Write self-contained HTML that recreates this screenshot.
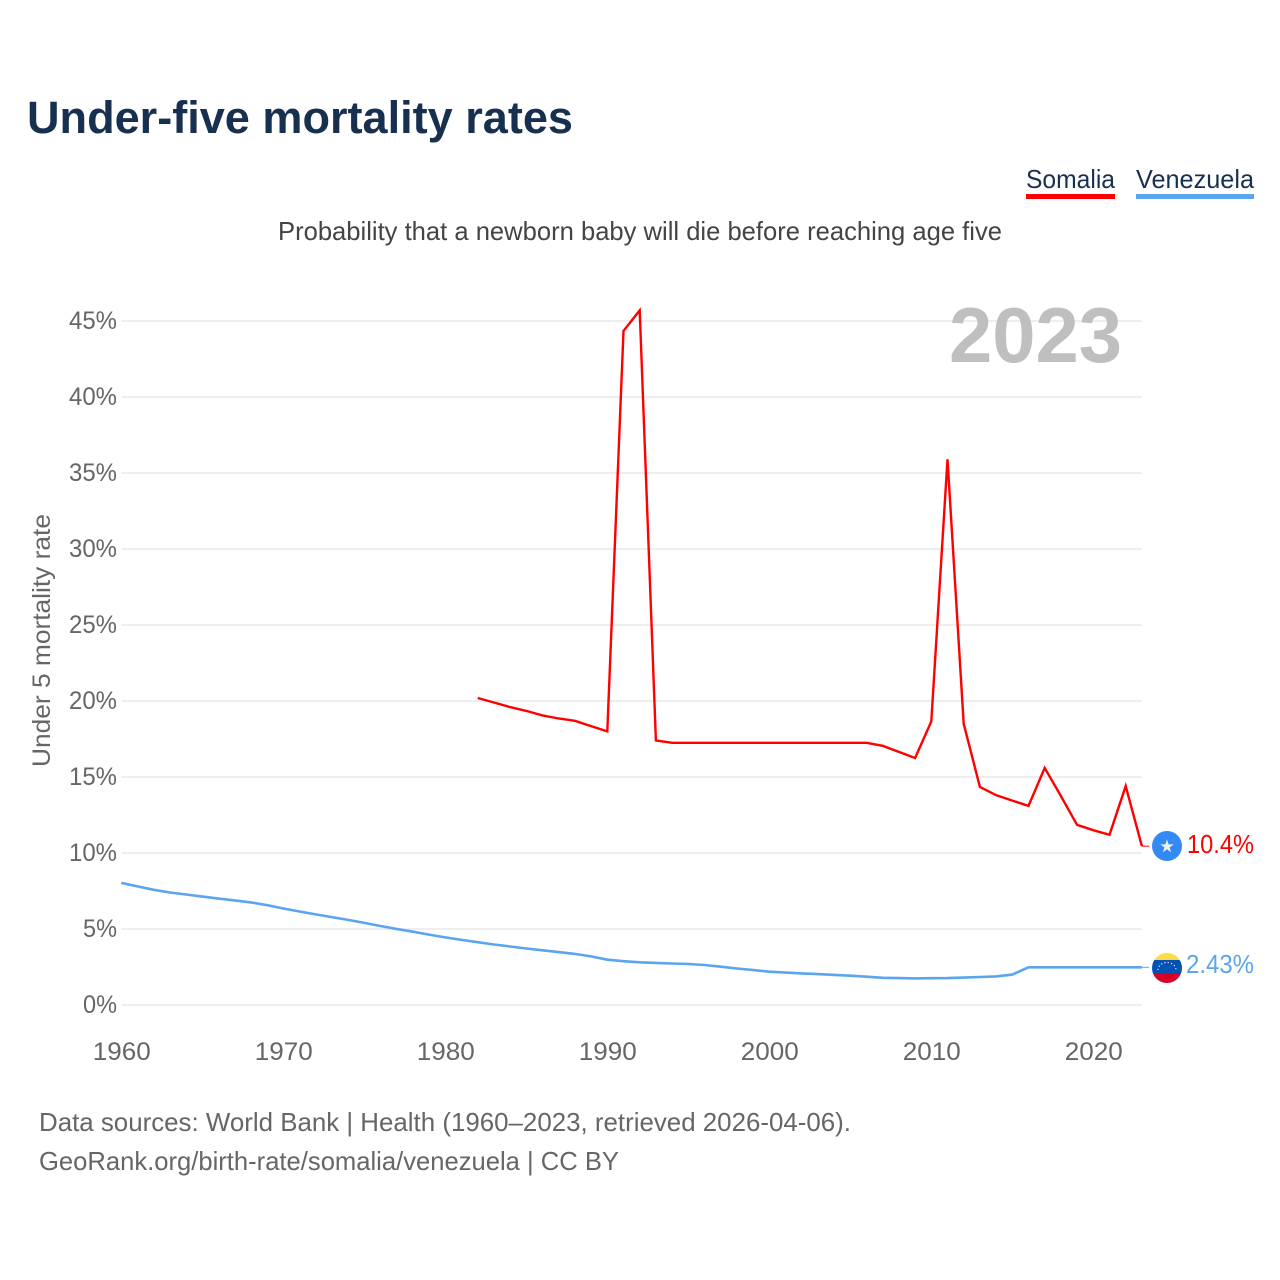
<!DOCTYPE html>
<html lang="en">
<head>
<meta charset="utf-8">
<title>Under-five mortality rates</title>
<style>
html,body{margin:0;padding:0;background:#fff;width:1280px;height:1280px;overflow:hidden}
svg{display:block}
text{font-family:"Liberation Sans",sans-serif}
</style>
</head>
<body>
<svg id="chart" xmlns="http://www.w3.org/2000/svg" width="1280" height="1280" viewBox="0 0 1280 1280">
  <defs>
    <clipPath id="flag-clip-so"><circle cx="1167" cy="846" r="15"/></clipPath>
    <clipPath id="flag-clip-ve"><circle cx="1167" cy="968" r="15"/></clipPath>
  </defs>
  <text x="27" y="133" font-size="45" font-weight="700" fill="#18304f" textLength="546" lengthAdjust="spacingAndGlyphs">Under-five mortality rates</text>

  <text x="1026" y="188" font-size="26" fill="#18304f" textLength="89" lengthAdjust="spacingAndGlyphs">Somalia</text>
  <rect x="1026" y="194" width="89" height="5" fill="#ff0000"/>
  <text x="1136" y="188" font-size="26" fill="#18304f" textLength="118" lengthAdjust="spacingAndGlyphs">Venezuela</text>
  <rect x="1136" y="194" width="118" height="5" fill="#5ba4ee"/>

  <text x="278" y="240" font-size="26" fill="#444444" textLength="724" lengthAdjust="spacingAndGlyphs">Probability that a newborn baby will die before reaching age five</text>

  <text transform="translate(50,767) rotate(-90)" font-size="25" fill="#666666" textLength="253" lengthAdjust="spacingAndGlyphs">Under 5 mortality rate</text>

  <g id="grid"></g>
  <g id="y-ticks"></g>
  <g id="x-ticks"></g>

  <text x="949" y="362" font-size="78" font-weight="700" fill="#bfbfbf" textLength="173" lengthAdjust="spacingAndGlyphs">2023</text>

  <g id="series"></g>

  <g clip-path="url(#flag-clip-so)">
    <rect x="1150" y="829" width="34" height="34" fill="#338af3"/>
    <polygon points="1167,839.5 1168.6,844.4 1173.7,844.4 1169.6,847.4 1171.1,852.3 1167,849.3 1162.9,852.3 1164.4,847.4 1160.3,844.4 1165.4,844.4" fill="#f0f0f0"/>
  </g>
  <text x="1187" y="853" font-size="26" fill="#ff0000" textLength="67" lengthAdjust="spacingAndGlyphs">10.4%</text>

  <g clip-path="url(#flag-clip-ve)">
    <rect x="1150" y="951" width="34" height="11" fill="#ffda44"/>
    <rect x="1150" y="960" width="34" height="14" fill="#0052b4"/>
    <rect x="1150" y="974" width="34" height="11" fill="#d80027"/>
    <path d="M1158 970A9 7.5 0 0 1 1176 970" fill="none" stroke="#f0f0f0" stroke-width="1.2" stroke-dasharray="1.2 2.2"/>
  </g>
  <text x="1186" y="973" font-size="26" fill="#5ba4ee" textLength="68" lengthAdjust="spacingAndGlyphs">2.43%</text>

  <text x="39" y="1131" font-size="26" fill="#666666" textLength="812" lengthAdjust="spacingAndGlyphs">Data sources: World Bank | Health (1960–2023, retrieved 2026-04-06).</text>
  <text x="39" y="1170" font-size="26" fill="#666666" textLength="580" lengthAdjust="spacingAndGlyphs">GeoRank.org/birth-rate/somalia/venezuela | CC BY</text>
</svg>
<script>
const yTickValues = [0, 5, 10, 15, 20, 25, 30, 35, 40, 45];
const yTickLabels = ['0%', '5%', '10%', '15%', '20%', '25%', '30%', '35%', '40%', '45%'];
const xTickYears = [1960, 1970, 1980, 1990, 2000, 2010, 2020];
const xTickLabels = ['1960', '1970', '1980', '1990', '2000', '2010', '2020'];
const somaliaStartYear = 1982;
const somaliaValues = [20.2, 19.9, 19.6, 19.35, 19.05, 18.85, 18.7, 18.35, 18.0, 44.35, 45.7, 17.4, 17.25, 17.25, 17.25, 17.25, 17.25, 17.25, 17.25, 17.25, 17.25, 17.25, 17.25, 17.25, 17.25, 17.05, 16.65, 16.25, 18.65, 35.9, 18.5, 14.35, 13.8, 13.45, 13.1, 15.6, 13.75, 11.85, 11.5, 11.2, 14.4, 10.45];
const venezuelaStartYear = 1960;
const venezuelaValues = [
  8.03, 7.8, 7.58, 7.4, 7.27, 7.13, 7.0, 6.88, 6.75, 6.57,
  6.35, 6.15, 5.96, 5.78, 5.6, 5.4, 5.2, 5.0, 4.82, 4.63,
  4.45, 4.28, 4.13, 3.98, 3.85, 3.72, 3.6, 3.48, 3.36, 3.2,
  2.98, 2.88, 2.81, 2.77, 2.73, 2.7, 2.63, 2.52, 2.4, 2.3,
  2.19, 2.13, 2.08, 2.03, 1.98, 1.93, 1.86, 1.79, 1.77, 1.75,
  1.76, 1.77, 1.8, 1.84, 1.88, 2.0, 2.48, 2.48, 2.48, 2.48,
  2.48, 2.48, 2.48, 2.48
];
const seriesEndLabels = [10.45, 2.48];

function xScale(year) { return 121.3 + (year - 1960) * 16.2; }
function yScale(value) { return 1005 - value * 15.2; }

const svgNS = 'http://www.w3.org/2000/svg';
const gridGroup = document.getElementById('grid');
const yTickGroup = document.getElementById('y-ticks');
const xTickGroup = document.getElementById('x-ticks');
const seriesGroup = document.getElementById('series');

yTickValues.forEach(function (v, i) {
  const line = document.createElementNS(svgNS, 'line');
  
  
  line.setAttribute('x1', xScale(1960));
  line.setAttribute('x2', xScale(2023));
  line.setAttribute('y1', yScale(v));
  line.setAttribute('y2', yScale(v));
  line.setAttribute('stroke', '#eeeeee');
  line.setAttribute('stroke-width', '2');
  gridGroup.appendChild(line);

  const label = document.createElementNS(svgNS, 'text');
  
  
  label.setAttribute('x', 117);
  label.setAttribute('y', yScale(v) + 8);
  label.setAttribute('text-anchor', 'end');
  label.setAttribute('font-size', '25');
  label.setAttribute('fill', '#666666');
  label.setAttribute('textLength', yTickLabels[i].length === 3 ? '48' : '34');
  label.setAttribute('lengthAdjust', 'spacingAndGlyphs');
  label.textContent = yTickLabels[i];
  yTickGroup.appendChild(label);
});

xTickYears.forEach(function (yr, i) {
  const label = document.createElementNS(svgNS, 'text');
  
  
  label.setAttribute('x', xScale(yr) + 0.5);
  label.setAttribute('y', 1060);
  label.setAttribute('text-anchor', 'middle');
  label.setAttribute('font-size', '25');
  label.setAttribute('fill', '#666666');
  label.setAttribute('textLength', '58');
  label.setAttribute('lengthAdjust', 'spacingAndGlyphs');
  label.textContent = xTickLabels[i];
  xTickGroup.appendChild(label);
});

function toPoints(values, startYear) {
  return values.map(function (v, i) {
    return xScale(startYear + i).toFixed(1) + ',' + yScale(v).toFixed(1);
  }).join(' ');
}

const somaliaLine = document.createElementNS(svgNS, 'polyline');


somaliaLine.setAttribute('points', toPoints(somaliaValues, somaliaStartYear));
somaliaLine.setAttribute('fill', 'none');
somaliaLine.setAttribute('stroke', '#ff0000');
somaliaLine.setAttribute('stroke-width', '2.4');
seriesGroup.appendChild(somaliaLine);

const venezuelaLine = document.createElementNS(svgNS, 'polyline');


venezuelaLine.setAttribute('points', toPoints(venezuelaValues, venezuelaStartYear));
venezuelaLine.setAttribute('fill', 'none');
venezuelaLine.setAttribute('stroke', '#5ba4ee');
venezuelaLine.setAttribute('stroke-width', '2.6');
seriesGroup.appendChild(venezuelaLine);

const somaliaConnector = document.createElementNS(svgNS, 'line');


somaliaConnector.setAttribute('x1', xScale(2023));
somaliaConnector.setAttribute('x2', 1149);
somaliaConnector.setAttribute('y1', yScale(seriesEndLabels[0]));
somaliaConnector.setAttribute('y2', yScale(seriesEndLabels[0]));
somaliaConnector.setAttribute('stroke', '#ff0000');
somaliaConnector.setAttribute('stroke-width', '1');
seriesGroup.appendChild(somaliaConnector);

const venezuelaConnector = document.createElementNS(svgNS, 'line');


venezuelaConnector.setAttribute('x1', xScale(2023));
venezuelaConnector.setAttribute('x2', 1149);
venezuelaConnector.setAttribute('y1', yScale(seriesEndLabels[1]));
venezuelaConnector.setAttribute('y2', yScale(seriesEndLabels[1]));
venezuelaConnector.setAttribute('stroke', '#5ba4ee');
venezuelaConnector.setAttribute('stroke-width', '1');
seriesGroup.appendChild(venezuelaConnector);
</script>
</body>
</html>
